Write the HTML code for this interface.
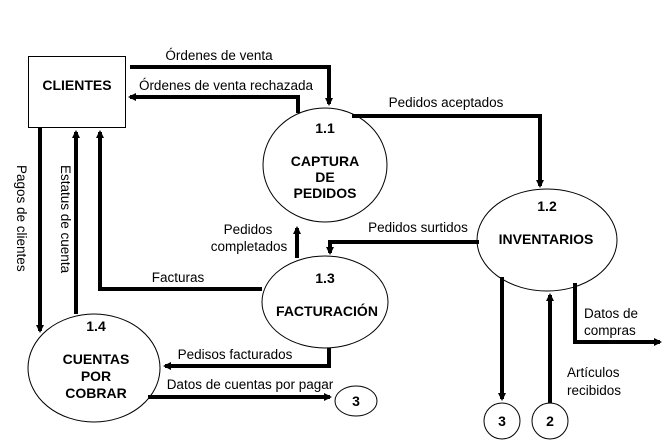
<!DOCTYPE html>
<html><head><style>
html,body{margin:0;padding:0;background:#fff;}
svg{display:block;}
text{font-family:"Liberation Sans",Arial,sans-serif;font-size:13.5px;fill:#000;}
.b{font-weight:bold;font-size:14px;}
</style></head><body>
<svg width="669" height="448" viewBox="0 0 669 448" xmlns="http://www.w3.org/2000/svg">
<defs>
<marker id="a" markerWidth="8" markerHeight="8" refX="6" refY="4" orient="auto" markerUnits="userSpaceOnUse">
<path d="M0,0 L8,4 L0,8 z" fill="#000"/></marker>
</defs>
<rect x="28.5" y="56.5" width="97" height="71" fill="#fff" stroke="#000"/>
<text class="b" x="77" y="90" text-anchor="middle">CLIENTES</text>

<ellipse cx="325" cy="165" rx="62" ry="57" fill="#fff" stroke="#000"/>
<text class="b" x="325" y="133" text-anchor="middle">1.1</text>
<text class="b" x="325" y="166" text-anchor="middle">CAPTURA</text>
<text class="b" x="325" y="182" text-anchor="middle">DE</text>
<text class="b" x="325" y="198" text-anchor="middle">PEDIDOS</text>

<ellipse cx="547" cy="240" rx="70" ry="51" fill="#fff" stroke="#000"/>
<text class="b" x="547" y="211" text-anchor="middle">1.2</text>
<text class="b" x="546" y="244" text-anchor="middle">INVENTARIOS</text>

<ellipse cx="325" cy="302" rx="63" ry="46" fill="#fff" stroke="#000"/>
<text class="b" x="325" y="283" text-anchor="middle">1.3</text>
<text class="b" x="327" y="316" text-anchor="middle">FACTURACIÓN</text>

<ellipse cx="94" cy="368" rx="66" ry="54" fill="#fff" stroke="#000"/>
<text class="b" x="96" y="331" text-anchor="middle">1.4</text>
<text class="b" x="96" y="364" text-anchor="middle">CUENTAS</text>
<text class="b" x="96" y="381" text-anchor="middle">POR</text>
<text class="b" x="96" y="398" text-anchor="middle">COBRAR</text>

<ellipse cx="356" cy="401" rx="21" ry="15" fill="#fff" stroke="#000"/>
<text class="b" x="356" y="406" text-anchor="middle">3</text>
<ellipse cx="502" cy="421" rx="18" ry="18" fill="#fff" stroke="#000"/>
<text class="b" x="502" y="426" text-anchor="middle">3</text>
<ellipse cx="550" cy="421" rx="18" ry="18" fill="#fff" stroke="#000"/>
<text class="b" x="550" y="426" text-anchor="middle">2</text>

<g fill="none" stroke="#000" stroke-width="4">
<polyline points="130,67 329,67 329,104" marker-end="url(#a)"/>
<polyline points="298,113 298,97 130,97" marker-end="url(#a)"/>
<polyline points="352,116 540,116 540,186" marker-end="url(#a)"/>
<polyline points="479,242 330,242 330,253" marker-end="url(#a)"/>
<polyline points="297,258 297,228" marker-end="url(#a)"/>
<polyline points="262,289 100,289 100,132" marker-end="url(#a)"/>
<polyline points="40,127 40,331" marker-end="url(#a)"/>
<polyline points="76,314 76,132" marker-end="url(#a)"/>
<polyline points="329,348 329,366 165,366" marker-end="url(#a)"/>
<polyline points="148,397 330,397" marker-end="url(#a)"/>
<polyline points="502,277 502,399" marker-end="url(#a)"/>
<polyline points="550,403 550,295" marker-end="url(#a)"/>
<polyline points="575,283 575,342 660,342" marker-end="url(#a)"/>
</g>

<text x="219" y="60" text-anchor="middle">Órdenes de venta</text>
<text x="226" y="90" text-anchor="middle">Órdenes de venta rechazada</text>
<text x="446" y="107" text-anchor="middle">Pedidos aceptados</text>
<text x="418" y="232" text-anchor="middle">Pedidos surtidos</text>
<text x="248" y="234" text-anchor="middle">Pedidos</text>
<text x="249" y="251" text-anchor="middle">completados</text>
<text x="178" y="282" text-anchor="middle">Facturas</text>
<text x="235" y="359" text-anchor="middle">Pedisos facturados</text>
<text x="250" y="389" text-anchor="middle">Datos de cuentas por pagar</text>
<text x="584" y="318">Datos de</text>
<text x="584" y="335">compras</text>
<text x="567" y="377">Artículos</text>
<text x="567" y="395">recibidos</text>
<text transform="translate(17,165) rotate(90)">Pagos de clientes</text>
<text transform="translate(61,165) rotate(90)">Estatus de cuenta</text>
</svg>
</body></html>
